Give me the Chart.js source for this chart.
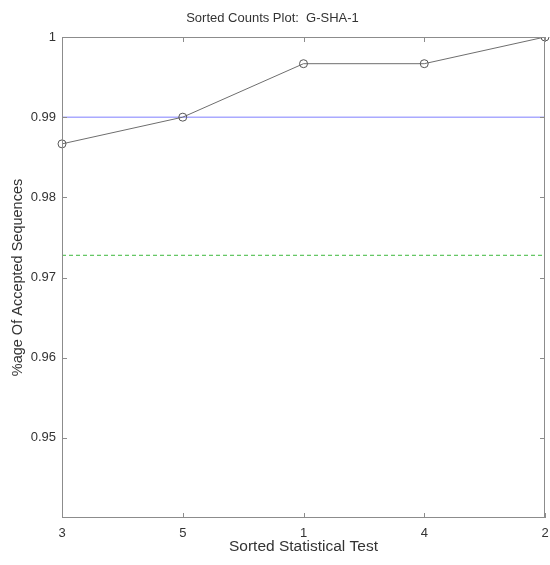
<!DOCTYPE html>
<html>
<head>
<meta charset="utf-8">
<script src="https://cdn.jsdelivr.net/npm/chart.js@4/dist/chart.umd.min.js"></script>
<style>
  html, body { margin: 0; padding: 0; background: #fff; }
  #wrap { width: 550px; height: 565px; }
</style>
</head>
<body>
<div id="wrap"><canvas id="sortedChart" width="550" height="565"></canvas></div>
<script>
// Sorted test order and proportion of accepted sequences (m = 300)
const testLabels = ['3', '5', '1', '4', '2'];
const passRates = [0.98667, 0.99, 0.99667, 0.99667, 1.0];
// reference levels: expected proportion and lower confidence bound
const expectedRate = 0.99;
const lowerBound = 0.97277;
const yTicks = [0.95, 0.96, 0.97, 0.98, 0.99, 1];

const axisGrey = '#8c8c8c';
const textColor = '#333333';
const fontFamily = 'Liberation Sans, Arial, sans-serif';

// draws the box round the plot and the inward tick marks (MATLAB style)
const boxPlugin = {
    id: 'boxTicks',
    afterDraw(chart) {
        const ctx = chart.ctx;
        const a = chart.chartArea;
        const xs = chart.scales.x;
        const ys = chart.scales.y;
        const len = 5;
        ctx.save();
        ctx.strokeStyle = axisGrey;
        ctx.lineWidth = 1;
        ctx.strokeRect(a.left + 0.5, a.top + 0.5, a.right - a.left - 1, a.bottom - a.top - 1);
        ctx.beginPath();
        testLabels.forEach((lab, i) => {
            const x = Math.round(xs.getPixelForValue(i)) + 0.5;
            ctx.moveTo(x, a.bottom);
            ctx.lineTo(x, a.bottom - len);
            ctx.moveTo(x, a.top);
            ctx.lineTo(x, a.top + len);
        });
        yTicks.forEach(v => {
            const y = Math.round(ys.getPixelForValue(v)) + 0.5;
            ctx.moveTo(a.left, y);
            ctx.lineTo(a.left + len, y);
            ctx.moveTo(a.right, y);
            ctx.lineTo(a.right - len, y);
        });
        ctx.stroke();
        ctx.restore();
    }
};

const ctx = document.getElementById('sortedChart').getContext('2d');
new Chart(ctx, {
    type: 'line',
    data: {
        labels: testLabels,
        datasets: [
            {
                label: 'expected',
                data: [{x: testLabels[0], y: expectedRate}, {x: testLabels[testLabels.length - 1], y: expectedRate}],
                borderColor: '#7f7fff',
                borderWidth: 1,
                pointRadius: 0,
                order: 2
            },
            {
                label: 'lower bound',
                data: [{x: testLabels[0], y: lowerBound}, {x: testLabels[testLabels.length - 1], y: lowerBound}],
                borderColor: '#3cb83c',
                borderWidth: 1,
                borderDash: [4, 3],
                pointRadius: 0,
                order: 2
            },
            {
                label: 'sorted counts',
                data: passRates,
                borderColor: '#6e6e6e',
                borderWidth: 1,
                pointStyle: 'circle',
                pointRadius: 4,
                pointBorderColor: '#555555',
                pointBackgroundColor: 'rgba(255,255,255,0)',
                pointBorderWidth: 1,
                order: 1
            }
        ]
    },
    options: {
        responsive: false,
        animation: false,
        layout: { padding: { left: 0, right: 5, top: 0, bottom: 0 } },
        plugins: {
            legend: { display: false },
            tooltip: { enabled: false },
            title: {
                display: true,
                text: 'Sorted Counts Plot:  G-SHA-1',
                color: textColor,
                font: { family: fontFamily, size: 13, weight: 'normal' },
                padding: { top: 11, bottom: 10.4 }
            }
        },
        scales: {
            x: {
                type: 'category',
                offset: false,
                grid: { display: false, drawTicks: false },
                border: { display: false },
                ticks: {
                    color: textColor,
                    padding: 8,
                    maxRotation: 0,
                    font: { family: fontFamily, size: 13 }
                },
                title: {
                    display: true,
                    text: 'Sorted Statistical Test',
                    color: textColor,
                    padding: { top: 2, bottom: 9 },
                    font: { family: fontFamily, size: 15.5 }
                },
                afterFit(scale) {
                    scale.height = 47;
                    scale.paddingLeft = 0;
                    scale.paddingRight = 0;
                }
            },
            y: {
                min: 0.94,
                max: 1,
                grid: { display: false, drawTicks: false },
                border: { display: false },
                afterBuildTicks(scale) {
                    scale.ticks = yTicks.map(v => ({ value: v }));
                },
                ticks: {
                    color: textColor,
                    padding: 6,
                    font: { family: fontFamily, size: 13 },
                    callback: v => String(Math.round(v * 100) / 100)
                },
                title: {
                    display: true,
                    text: '%age Of Accepted Sequences',
                    color: textColor,
                    padding: { top: 9, bottom: 0 },
                    font: { family: fontFamily, size: 14.5 }
                },
                afterFit(scale) {
                    scale.width = 62;
                    scale.paddingTop = 0;
                    scale.paddingBottom = 0;
                }
            }
        }
    },
    plugins: [boxPlugin]
});
</script>
</body>
</html>
